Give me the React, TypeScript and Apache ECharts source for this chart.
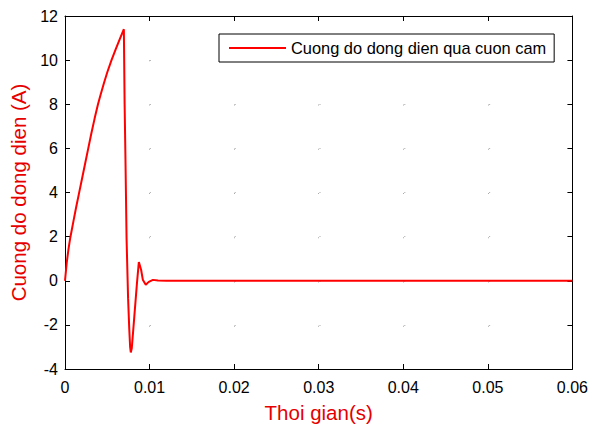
import React, { useEffect, useRef } from "react";
import * as echarts from "echarts";

const seriesName = "Cuong do dong dien qua cuon cam";
const xAxisName = "Thoi gian(s)";
const yAxisName = "Cuong do dong dien (A)";

const timeS = [
  0, 0.0002, 0.0004, 0.0006, 0.0008, 0.001, 0.0013, 0.00165, 0.002, 0.0024,
  0.00275, 0.0031, 0.0035, 0.0039, 0.0042, 0.0046, 0.005, 0.0055, 0.006, 0.0065, 0.00696,
  0.00705, 0.00715, 0.00728, 0.00746, 0.0076, 0.0077, 0.00778, 0.0079, 0.0082,
  0.0085, 0.00873, 0.009, 0.0092, 0.00955, 0.0099, 0.0104, 0.011, 0.012, 0.06,
];
const currentA = [
  0, 0.8, 1.4, 1.9, 2.3, 2.7, 3.3, 3.95, 4.6, 5.35,
  6.0, 6.65, 7.35, 8.0, 8.42, 8.95, 9.45, 10.0, 10.5, 10.97, 11.4,
  8.0, 5.5, 1.9, -0.8, -2.2, -3.0, -3.25, -3.05, -1.6,
  -0.15, 0.85, 0.5, 0.05, -0.18, -0.05, 0.04, 0.01, 0, 0,
];

const xMin = 0;
const xMax = 0.06;
const xStep = 0.01;
const yMin = -4;
const yMax = 12;
const yStep = 2;

const FONT = "'Liberation Sans', Arial, sans-serif";
const RED = "#ff0000";
const NAME_RED = "#e60000";

export default function App() {
  const ref = useRef<HTMLDivElement>(null);
  useEffect(() => {
    if (!ref.current) return;
    const chart = echarts.init(ref.current, null, { renderer: "svg" });
    const axisLine = { show: true, onZero: false, lineStyle: { color: "#000", width: 1 } };
    const axisTick = { show: true, inside: true, length: 5, lineStyle: { color: "#000", width: 1 } };
    chart.setOption({
      animation: false,
      backgroundColor: "#fff",
      textStyle: { fontFamily: FONT },
      grid: { left: 65, right: 17, top: 16, bottom: 58, containLabel: false },
      legend: {
        show: true,
        left: 219,
        top: 34,
        orient: "horizontal",
        borderColor: "#000",
        borderWidth: 1,
        borderRadius: 0,
        backgroundColor: "#fff",
        padding: [6, 8, 6, 10],
        itemWidth: 57,
        itemHeight: 2,
        textStyle: { fontSize: 16.4, color: "#000", fontFamily: FONT },
        data: [{ name: seriesName, icon: "rect", itemStyle: { color: RED } }],
      },
      xAxis: [
        {
          type: "value",
          min: xMin,
          max: xMax,
          interval: xStep,
          position: "bottom",
          name: xAxisName,
          nameLocation: "middle",
          nameGap: 33,
          nameTextStyle: { fontSize: 20.5, color: NAME_RED, fontFamily: FONT },
          axisLine,
          axisTick,
          axisLabel: { fontSize: 16, color: "#000", margin: 10, fontFamily: FONT },
          splitLine: {
            show: true,
            lineStyle: { color: "#aaa", width: 1, type: [1, 43.25] },
          },
        },
        {
          type: "value",
          min: xMin,
          max: xMax,
          interval: xStep,
          position: "top",
          axisLine,
          axisTick,
          axisLabel: { show: false },
          splitLine: { show: false },
        },
      ],
      yAxis: [
        {
          type: "value",
          min: yMin,
          max: yMax,
          interval: yStep,
          position: "left",
          name: yAxisName,
          nameLocation: "middle",
          nameGap: 34,
          nameTextStyle: { fontSize: 20.5, color: NAME_RED, fontFamily: FONT },
          axisLine,
          axisTick,
          axisLabel: { fontSize: 16, color: "#000", margin: 7, fontFamily: FONT },
          splitLine: {
            show: true,
            lineStyle: { color: "#aaa", width: 1, type: [1, 83.83] },
          },
        },
        {
          type: "value",
          min: yMin,
          max: yMax,
          interval: yStep,
          position: "right",
          axisLine,
          axisTick,
          axisLabel: { show: false },
          splitLine: { show: false },
        },
      ],
      series: [
        {
          name: seriesName,
          type: "line",
          xAxisIndex: 0,
          yAxisIndex: 0,
          data: timeS.map((t, i) => [t, currentA[i]]),
          showSymbol: false,
          symbol: "none",
          lineStyle: { color: RED, width: 2 },
          itemStyle: { color: RED },
          clip: true,
        },
      ],
    });
    return () => chart.dispose();
  }, []);
  return <div ref={ref} style={{ width: 591, height: 428, position: "absolute", left: 0, top: 0 }} />;
}
